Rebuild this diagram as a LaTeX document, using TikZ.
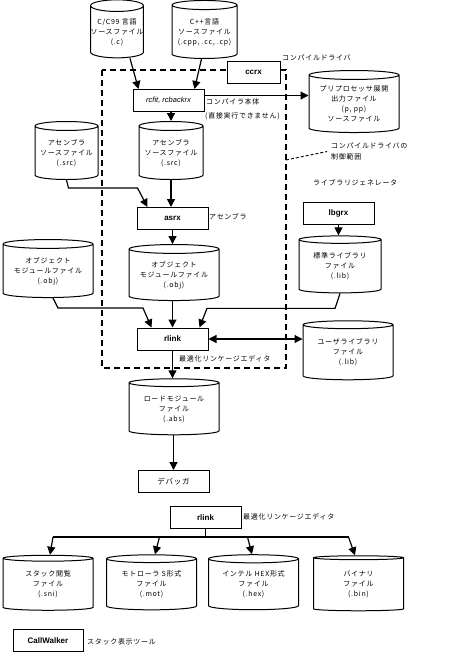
\documentclass[tikz,border=0pt]{standalone}
\usepackage{fontspec}
\setmainfont{Noto Sans CJK JP}[LetterSpace=10]
\newfontfamily\latinfont{Liberation Sans}
\usetikzlibrary{
	arrows.meta,
	calc,
	shapes.geometric,
	positioning
}

\tikzset{
	tool/.style={draw, line width=1pt, fill=white, minimum width=71pt, minimum height=22pt, inner sep=0pt, font=\latinfont\bfseries\fontsize{8}{10}\selectfont},
	dbfile/.style={cylinder, shape border rotate=90, draw, line width=1pt, fill=white, aspect=0.13, minimum width=90pt, minimum height=56pt, inner sep=0pt, align=center, font=\fontsize{7}{10}\selectfont},
	note/.style={anchor=west, inner sep=0pt, align=left, font=\fontsize{7}{11}\selectfont},
	arr/.style={line width=1.2pt, -{Triangle[length=8pt, width=8pt]}},
	arrboth/.style={line width=1.2pt, {Triangle[length=8pt, width=8pt]}-{Triangle[length=8pt, width=8pt]}},
	link/.style={line width=1.2pt}
}

\begin{document}
\begin{tikzpicture}[x=1pt, y=-1pt]
	\fill[white] (0,0) rectangle (474,664);
	\useasboundingbox (0,0) rectangle (474,664);

	% compile driver scope
	\draw[line width=1.2pt, dash pattern=on 6pt off 4pt] (102,70) rectangle (286,368);
	\coordinate (scopeedge) at (286,160);

	% files
	\node[dbfile, minimum width=50pt, aspect=0.22, minimum height=58pt] (csrc) at (117,32) {C/C99 言語\\ソースファイル\\(.c)};
	\node[dbfile, minimum width=65pt, aspect=0.17, minimum height=58pt] (cppsrc) at (204.5,32) {C++言語\\ソースファイル\\(.cpp, .cc, .cp)};
	\node[dbfile, minimum height=62pt] (ppout) at (354,104) {プリプロセッサ展開\\出力ファイル\\(p, pp)\\ソースファイル};
	\node[dbfile, minimum width=63pt, aspect=0.17, minimum height=58pt] (asmsrcL) at (66.5,153) {アセンブラ\\ソースファイル\\(.src)};
	\node[dbfile, minimum width=64pt, aspect=0.17, minimum height=58pt] (asmsrc) at (171,153) {アセンブラ\\ソースファイル\\(.src)};
	\node[dbfile, minimum height=58pt] (objL) at (48,271) {オブジェクト\\モジュールファイル\\(.obj)};
	\node[dbfile] (obj) at (174,275) {オブジェクト\\モジュールファイル\\(.obj)};
	\node[dbfile, minimum width=82pt, aspect=0.14, minimum height=57pt] (stdlib) at (340,266.5) {標準ライブラリ\\ファイル\\(.lib)};
	\node[dbfile, minimum height=59pt] (userlib) at (348,352.5) {ユーザライブラリ\\ファイル\\(.lib)};
	\node[dbfile] (absfile) at (174,409) {ロードモジュール\\ファイル\\(.abs)};
	\foreach \f/\x/\txt in {sni/48/スタック閲覧, mot/151.5/モトローラ S形式, hex/253.5/インテル HEX形式, bin/358.5/バイナリ}
		\node[dbfile, minimum height=55pt] (\f) at (\x,584.5) {\txt\\ファイル\\(.\f)};

	% tools
	\node[tool, minimum width=53pt] (ccrx) at (253.5,72) {ccrx};
	\node[tool, font=\latinfont\itshape\fontsize{7.5}{9}\selectfont] (rcfit) at (168.5,100.5) {rcfit, rcbackrx};
	\node[tool] (asrx) at (172.5,218.5) {asrx};
	\node[tool] (lbgrx) at (338.5,213) {lbgrx};
	\node[tool] (rlink) at (172.5,339) {rlink};
	\node[tool, font=\fontsize{7.5}{9}\selectfont] (debugger) at (173.5,481.5) {デバッガ};
	\node[tool] (rlink2) at (205.5,517.5) {rlink};
	\node[tool, minimum width=70pt] (callw) at (48,640.5) {CallWalker};

	% labels
	\node[note] (drvlbl) at (282,58) {コンパイルドライバ};
	\node[note] (cc1lbl) at (206,102) {コンパイラ本体};
	\node[note] (cc1note) at (205,116) {(直接実行できません)};
	\node[note] (scopelbl) at (331,151.5) {コンパイルドライバの\\制御範囲};
	\node[note] (libgenlbl) at (313,183) {ライブラリジェネレータ};
	\node[note] (asmlbl) at (209,217) {アセンブラ};
	\node[note] (lnklbl) at (179,359) {最適化リンケージエディタ};
	\node[note] (lnklbl2) at (243,517) {最適化リンケージエディタ};
	\node[note] (cwlbl) at (87,642) {スタック表示ツール};

	\draw[line width=0.9pt, dash pattern=on 3pt off 2pt] (scopeedge) -- ([xshift=-4pt]scopelbl.west);

	% connectors
	\draw[arr] ([xshift=13pt]csrc.south) -- ([xshift=-30pt]rcfit.north);
	\draw[arr] ([xshift=-3pt]cppsrc.south) -- ([xshift=26pt]rcfit.north);
	\draw[arr] ([yshift=5pt]rcfit.east) -- ([yshift=5pt]rcfit.east -| ppout.west);
	\draw[arr] (rcfit.south -| asmsrc.north) -- (asmsrc.north);
	\draw[arr] (asmsrcL.south) -- ++(2,8) -- ++(69,0) -- ([xshift=-25pt]asrx.north);
	\draw[arr] (asmsrc.south) -- (asmsrc.south |- asrx.north);
	\draw[arr] (asrx.south) -- (asrx.south |- obj.north);
	\draw[arr] ([xshift=5pt]objL.south) -- ++(5,10) -- ++(85,0) -- ([xshift=-21pt]rlink.north);
	\draw[arr] (obj.south -| rlink.north) -- (rlink.north);
	\draw[arr] (stdlib.south) -- ++(-5,15) -- ++(-128,0) -- ([xshift=27pt]rlink.north);
	\draw[arr] (lbgrx.south) -- (lbgrx.south |- stdlib.north);
	\draw[arrboth] (rlink.east) -- (rlink.east -| userlib.west);
	\draw[arr] (rlink.south) -- (rlink.south |- absfile.north);
	\draw[arr] (absfile.south -| debugger.north) -- (debugger.north);

	\coordinate (fork) at ($(rlink2.south)+(0,8)$);
	\draw[link] (rlink2.south) -- (fork);
	\draw[link] ([xshift=5pt]sni.north |- fork) -- ([xshift=-10pt]bin.north |- fork);
	\foreach \f/\dx/\tx in {sni/5/2, mot/8/3.5, hex/-6/-1.5, bin/-10/-3.5}
		\draw[arr] ([xshift=\dx pt]\f.north |- fork) -- ([xshift=\tx pt]\f.north);
\end{tikzpicture}
\end{document}
